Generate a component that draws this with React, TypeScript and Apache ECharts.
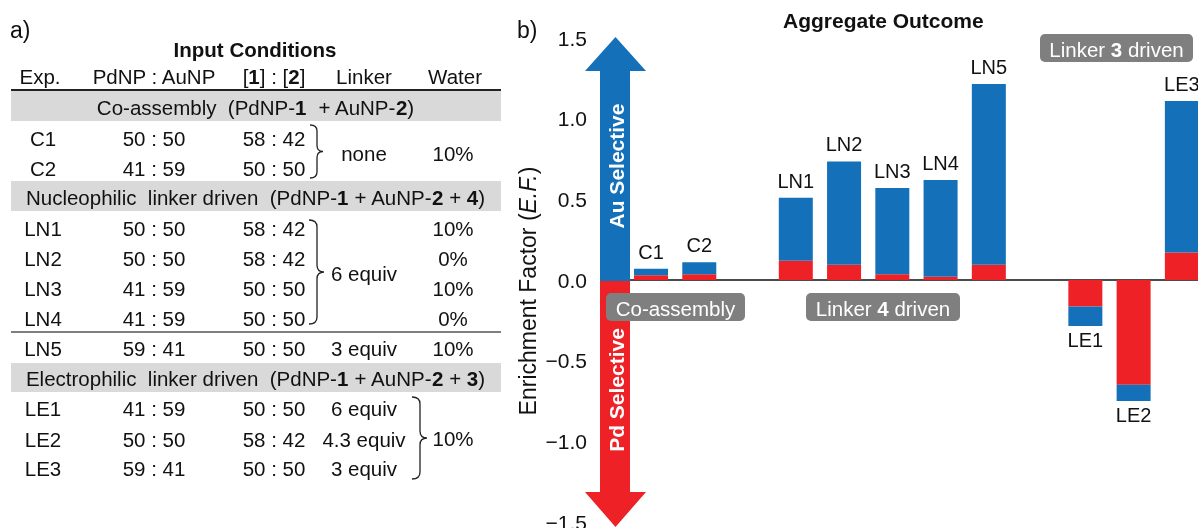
import React, { useEffect, useRef } from 'react';
import * as echarts from 'echarts';

// ---------- data ----------
const barNames = ['C1', 'C2', 'LN1', 'LN2', 'LN3', 'LN4', 'LN5', 'LE1', 'LE2', 'LE3'];
// x-axis slots (empty slots separate the groups)
const slotCategories = ['C1', 'C2', 'gap1', 'LN1', 'LN2', 'LN3', 'LN4', 'LN5', 'gap2', 'LE1', 'LE2', 'LE3'];
const pdPart = [0.03, 0.035, 0.12, 0.095, 0.035, 0.02, 0.095, -0.165, -0.65, 0.17];
const auPart = [0.04, 0.075, 0.39, 0.64, 0.535, 0.6, 1.12, -0.12, -0.1, 0.94];

const tableHeaders = ['Exp.', 'PdNP : AuNP', '[{b|1}] : [{b|2}]', 'Linker', 'Water'];
const tableExp = ['C1', 'C2', 'LN1', 'LN2', 'LN3', 'LN4', 'LN5', 'LE1', 'LE2', 'LE3'];
const tablePdAu = ['50 : 50', '41 : 59', '50 : 50', '50 : 50', '41 : 59', '41 : 59', '59 : 41', '41 : 59', '50 : 50', '59 : 41'];
const tableRatio = ['58 : 42', '50 : 50', '58 : 42', '58 : 42', '50 : 50', '50 : 50', '50 : 50', '50 : 50', '58 : 42', '50 : 50'];
const linkerGroups: [string, number, number][] = [
  ['none', 0, 1], ['6 equiv', 2, 5], ['3 equiv', 6, 6], ['6 equiv', 7, 7], ['4.3 equiv', 8, 8], ['3 equiv', 9, 9],
];
const waterGroups: [string, number, number][] = [
  ['10%', 0, 1], ['10%', 2, 2], ['0%', 3, 3], ['10%', 4, 4], ['0%', 5, 5], ['10%', 6, 6], ['10%', 7, 9],
];
const sectionTitles = [
  'Co-assembly  (PdNP-{b|1}  + AuNP-{b|2})',
  'Nucleophilic  linker driven  (PdNP-{b|1} + AuNP-{b|2} + {b|4})',
  'Electrophilic  linker driven  (PdNP-{b|1} + AuNP-{b|2} + {b|3})',
];

// ---------- layout ----------
const FONT = '"Liberation Sans", Arial, Helvetica, sans-serif';
const BLUE = '#1570BA';
const RED = '#EE2127';
const GRAY = '#7F7F7F';
const BAND = '#D9D9D9';
const TFS = 20.5;
const rowY = [138, 168, 228, 258, 288, 318, 348, 408, 439, 468];
const colX = [43, 154, 274, 364, 453];
const headerY = 76;
const bandY: [number, number][] = [[91, 121], [181, 211], [363, 392]];
const TL = 11;
const TR = 501;

function bracePath(x0: number, xm: number, xt: number, y1: number, y2: number, r: number) {
  const ym = (y1 + y2) / 2;
  return `M${x0},${y1} Q${xm},${y1} ${xm},${y1 + r} L${xm},${ym - r} Q${xm},${ym} ${xt},${ym} Q${xm},${ym} ${xm},${ym + r} L${xm},${y2 - r} Q${xm},${y2} ${x0},${y2}`;
}

let registered = false;
function registerBraces() {
  if (registered) return;
  registered = true;
  echarts.graphic.registerShape('braceC', echarts.graphic.extendPath(bracePath(310, 317, 323, 125, 178, 6), {}) as any);
  echarts.graphic.registerShape('braceLN', echarts.graphic.extendPath(bracePath(309, 317, 324, 220, 324, 7), {}) as any);
  echarts.graphic.registerShape('braceLE', echarts.graphic.extendPath(bracePath(412, 420, 427, 397, 479, 7), {}) as any);
}

function txt(text: string, x: number, y: number, opts: any = {}) {
  const fs = opts.fontSize || TFS;
  const fill = opts.fill || '#111';
  return {
    type: 'text',
    x,
    y,
    rotation: opts.rotation || 0,
    z: opts.z || 10,
    style: {
      text,
      fill,
      fontSize: fs,
      fontFamily: FONT,
      fontWeight: opts.fontWeight || 'normal',
      align: opts.align || 'center',
      verticalAlign: 'middle',
      rich: {
        b: { fontWeight: 'bold', fontSize: fs, fontFamily: FONT, fill },
        i: { fontStyle: 'italic', fontSize: fs, fontFamily: FONT, fill },
      },
    },
  };
}

export default function App() {
  const ref = useRef<HTMLDivElement>(null);
  useEffect(() => {
    if (!ref.current) return;
    registerBraces();
    const chart = echarts.init(ref.current, null, { renderer: 'svg' });

    const graphics: any[] = [];
    // panel labels
    graphics.push(txt('a)', 10, 30, { fontSize: 23, align: 'left' }));
    graphics.push(txt('b)', 517, 30, { fontSize: 23, align: 'left' }));
    // table
    graphics.push(txt('Input Conditions', 255, 49, { fontWeight: 'bold' }));
    tableHeaders.forEach((h, i) => graphics.push(txt(h, colX[i] + (i === 0 ? -3 : i === 4 ? 2 : 0), headerY)));
    graphics.push({ type: 'line', shape: { x1: TL, y1: 90, x2: TR, y2: 90 }, style: { stroke: '#222', lineWidth: 2 } });
    bandY.forEach(([a, b], i) => {
      graphics.push({ type: 'rect', shape: { x: TL, y: a, width: TR - TL, height: b - a }, style: { fill: BAND }, z: 5 });
      graphics.push(txt(sectionTitles[i], 255.5, (a + b) / 2 + 1));
    });
    graphics.push({ type: 'line', shape: { x1: TL, y1: 332, x2: TR, y2: 332 }, style: { stroke: '#555', lineWidth: 1.5 } });
    tableExp.forEach((t, i) => {
      graphics.push(txt(t, colX[0], rowY[i]));
      graphics.push(txt(tablePdAu[i], colX[1], rowY[i]));
      graphics.push(txt(tableRatio[i], colX[2], rowY[i]));
    });
    linkerGroups.forEach(([t, a, b]) => graphics.push(txt(t, colX[3], (rowY[a] + rowY[b]) / 2)));
    waterGroups.forEach(([t, a, b]) => graphics.push(txt(t, colX[4], (rowY[a] + rowY[b]) / 2)));
    ['braceC', 'braceLN', 'braceLE'].forEach((s) =>
      graphics.push({ type: s, style: { fill: 'none', stroke: '#222', lineWidth: 1.3 }, z: 10 })
    );

    // arrows
    graphics.push({
      type: 'polygon',
      z: 20,
      shape: { points: [[600, 281], [600, 71], [585, 71], [615.5, 37], [646, 71], [630, 71], [630, 281]] },
      style: { fill: BLUE },
    });
    graphics.push({
      type: 'polygon',
      z: 20,
      shape: { points: [[600, 281], [600, 492], [585, 492], [615.5, 527], [646, 492], [630, 492], [630, 281]] },
      style: { fill: RED },
    });
    graphics.push(txt('Au Selective', 616, 166, { rotation: Math.PI / 2, fill: '#fff', fontWeight: 'bold', fontSize: 21, z: 21 }));
    graphics.push(txt('Pd Selective', 616, 390, { rotation: Math.PI / 2, fill: '#fff', fontWeight: 'bold', fontSize: 21, z: 21 }));

    // y axis name
    graphics.push(txt('Enrichment Factor ({i|E.F.})', 528, 291, { rotation: Math.PI / 2, fontSize: 23 }));

    // gray tags
    const tags: [string, number, number, number, number][] = [
      ['Co-assembly', 606, 293, 139, 28],
      ['Linker {b|4} driven', 806, 293, 154, 28],
      ['Linker {b|3} driven', 1040, 34, 153, 28],
    ];
    tags.forEach(([t, x, y, w, h]) => {
      graphics.push({ type: 'rect', z: 22, shape: { x, y, width: w, height: h, r: 5 }, style: { fill: GRAY } });
      graphics.push(txt(t, x + w / 2, y + h / 2 + 1, { fill: '#fff', z: 23, fontSize: 20.5 }));
    });

    const pdData = slotCategories.map((c) => {
      const i = barNames.indexOf(c);
      return i < 0 ? '-' : pdPart[i];
    });
    const auData = slotCategories.map((c) => {
      const i = barNames.indexOf(c);
      if (i < 0) return '-';
      const neg = pdPart[i] + auPart[i] < 0;
      return {
        value: auPart[i],
        label: { position: neg ? 'bottom' : 'top', distance: neg ? 4 : 7 },
      };
    });

    chart.setOption({
      animation: false,
      title: {
        text: 'Aggregate Outcome',
        left: 778,
        top: 5,
        textStyle: { fontSize: 21, fontWeight: 'bold', color: '#111', fontFamily: FONT },
      },
      grid: {
        left: 626.9,
        width: 579.1,
        top: 38,
        height: 484,
        containLabel: false,
        outerBoundsMode: 'none',
      },
      xAxis: {
        type: 'category',
        data: slotCategories,
        axisLine: { show: true, onZero: true, lineStyle: { color: '#111', width: 1.5 } },
        axisTick: { show: false },
        axisLabel: { show: false },
        splitLine: { show: false },
      },
      yAxis: {
        type: 'value',
        min: -1.5,
        max: 1.5,
        interval: 0.5,
        offset: 26.9,
        axisLine: { show: false },
        axisTick: { show: false },
        splitLine: { show: false },
        axisLabel: {
          margin: 13,
          fontSize: 21,
          color: '#111',
          fontFamily: FONT,
          formatter: (v: number) => (v < 0 ? '\u2212' : '') + Math.abs(v).toFixed(1),
        },
      },
      series: [
        {
          type: 'bar',
          name: 'Pd',
          stack: 'ef',
          barWidth: 34,
          data: pdData,
          itemStyle: { color: RED },
        },
        {
          type: 'bar',
          name: 'Au',
          stack: 'ef',
          barWidth: 34,
          data: auData,
          itemStyle: { color: BLUE },
          label: {
            show: true,
            formatter: (p: any) => barNames[barNames.indexOf(p.name)],
            fontSize: 20,
            color: '#111',
            fontFamily: FONT,
          },
        },
      ],
      graphic: graphics,
    });
    return () => chart.dispose();
  }, []);
  return <div ref={ref} style={{ position: 'fixed', left: 0, top: 0, width: 1198, height: 528 }} />;
}
